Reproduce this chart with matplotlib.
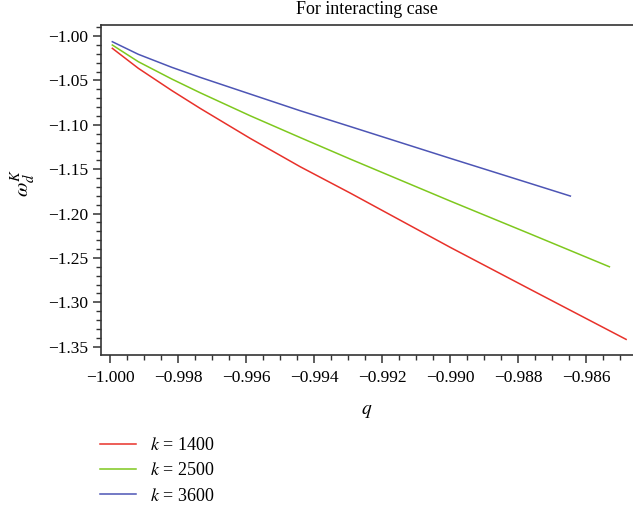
import matplotlib
matplotlib.use('Agg')
import matplotlib.pyplot as plt
import matplotlib.ticker as ticker

plt.rcParams['font.family'] = ['Liberation Serif', 'DejaVu Serif']
plt.rcParams['mathtext.fontset'] = 'stix'

# curves
q_1400 = [-0.999932, -0.999167, -0.998184, -0.997351, -0.995880, -0.994408, -0.992937, -0.989994, -0.987640, -0.984823]
w_1400 = [-1.01386, -1.03639, -1.06140, -1.08146, -1.11525, -1.14723, -1.17688, -1.23806, -1.28538, -1.34171]

q_2500 = [-0.999932, -0.999167, -0.998184, -0.997351, -0.995880, -0.994408, -0.992937, -0.989994, -0.987640, -0.985314]
w_2500 = [-1.01014, -1.02895, -1.04844, -1.06388, -1.08979, -1.11436, -1.13858, -1.18589, -1.22296, -1.25991]

q_3600 = [-0.999932, -0.999167, -0.998184, -0.997351, -0.995880, -0.994408, -0.992937, -0.989994, -0.987640, -0.986462]
w_3600 = [-1.00642, -1.02062, -1.03526, -1.04653, -1.06535, -1.08416, -1.10196, -1.13779, -1.16607, -1.18026]

labels = ['$k$ = 1400', '$k$ = 2500', '$k$ = 3600']
colors = ['#e8312a', '#7ec81e', '#4d55b5']

fig = plt.figure(figsize=(6.33, 5.08), dpi=100)
ax = fig.add_axes([101 / 633, 1 - 355 / 508, 1 - 101 / 633, (355 - 25) / 508])

ax.plot(q_1400, w_1400, color=colors[0], lw=1.1, label=labels[0])
ax.plot(q_2500, w_2500, color=colors[1], lw=1.1, label=labels[1])
ax.plot(q_3600, w_3600, color=colors[2], lw=1.1, label=labels[2])

ax.set_xlim(-1.000265, -0.98462)
ax.set_ylim(-1.3593, -0.9876)
ax.xaxis.set_major_locator(ticker.MultipleLocator(0.002))
ax.xaxis.set_minor_locator(ticker.MultipleLocator(0.0005))
ax.yaxis.set_major_locator(ticker.MultipleLocator(0.05))
ax.yaxis.set_minor_locator(ticker.MultipleLocator(0.01))
ax.xaxis.set_major_formatter(ticker.FuncFormatter(lambda v, p: ('%.3f' % v).replace('-', '\u2212')))
ax.yaxis.set_major_formatter(ticker.FuncFormatter(lambda v, p: ('%.2f' % v).replace('-', '\u2212')))

ax.spines['right'].set_visible(False)
for s in ['left', 'bottom', 'top']:
    ax.spines[s].set_linewidth(1.2)
    ax.spines[s].set_color('#333333')
ax.tick_params(which='major', direction='out', length=6, width=1.1, color='#333333',
               labelsize=12.5, top=False, right=False)
ax.tick_params(axis='x', which='major', pad=5)
ax.tick_params(which='minor', direction='out', length=3.5, width=1.0, color='#333333',
               top=False, right=False)

fig.text(367 / 633, 1 - 10 / 508, 'For interacting case', fontsize=13, ha='center', va='center')
ax.set_xlabel('$q$', fontsize=14, labelpad=12)
ax.set_ylabel(r'$\omega_d^K$', fontsize=15)
ax.yaxis.set_label_coords(-0.118, 0.52)

fig.legend(loc='upper left', bbox_to_anchor=(100 / 633, 1 - 437 / 508), frameon=False,
           fontsize=13, handlelength=2.0, handletextpad=0.75, labelspacing=0.46,
           borderpad=0, borderaxespad=0)

fig.savefig('out.png', dpi=100)
